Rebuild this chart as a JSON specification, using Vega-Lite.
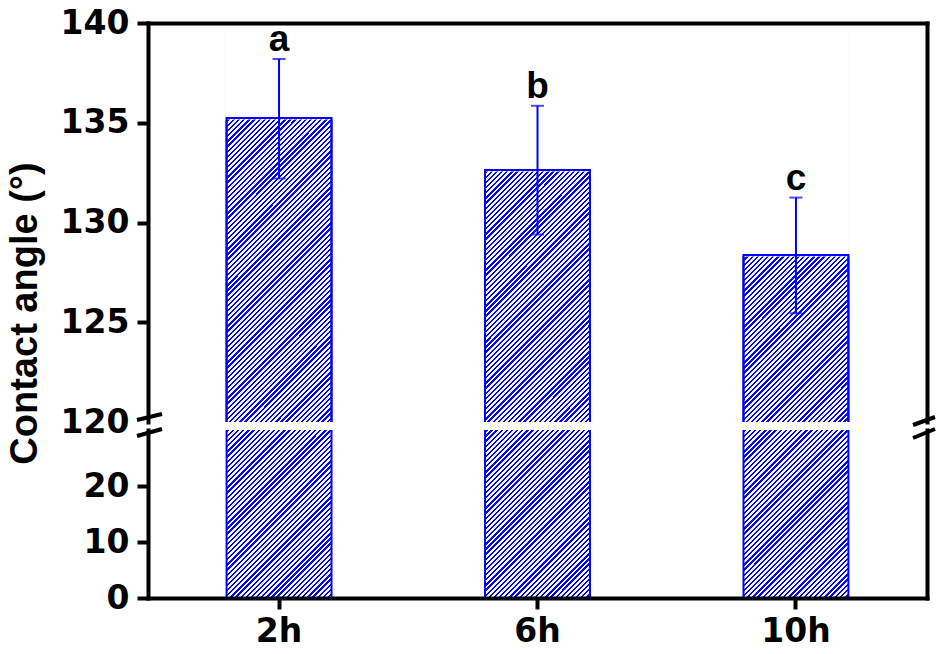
{
 "$schema": "https://vega.github.io/schema/vega-lite/v6.json",
 "padding": {"left": 5, "top": 7, "right": 5, "bottom": 5},
 "data": {"values": [
  {"time": "2h", "mean": 135.24, "lower": 132.2, "upper": 138.2, "letter": "a"},
  {"time": "6h", "mean": 132.63, "lower": 129.4, "upper": 135.85, "letter": "b"},
  {"time": "10h", "mean": 128.37, "lower": 125.45, "upper": 131.25, "letter": "c"}
 ]},
 "spacing": 8,
 "bounds": "flush",
 "vconcat": [
  {
   "width": 779, "height": 399,
   "resolve": {"scale": {"x": "independent", "y": "independent"}},
   "layer": [
    {
     "layer": [
      {"mark": {"type": "bar", "stroke": "#0000ff", "strokeWidth": 2, "clip": true},
       "encoding": {
        "x": {"field": "time", "type": "nominal", "sort": null, "scale": {"paddingInner": 0.594, "paddingOuter": 0.304}, "axis": {"orient": "top", "labels": false, "ticks": false, "title": null, "domainCap": "square", "zindex": 1}},
        "y": {"datum": 140, "type": "quantitative", "title": "Contact angle (°)", "scale": {"domain": [120, 140], "nice": false, "zero": false}, "axis": {"orient": "left", "values": [120, 125, 130, 135, 140], "titleY": 290, "titleX": -104, "titleBaseline": "bottom", "tickOpacity": {"condition": {"test": "datum.value === 120", "value": 0}, "value": 1}, "domainCap": "square", "zindex": 1}},
        "y2": {"datum": 119.5}
       }},
      {"mark": {"type": "bar", "fill": "white", "stroke": "white", "strokeWidth": 3},
       "encoding": {"x": {"field": "time", "type": "nominal", "sort": null}, "y": {"field": "mean", "type": "quantitative", "title": "Contact angle (°)"}, "y2": {"datum": 140}}},
      {"mark": {"type": "bar", "fill": "transparent", "stroke": "#0000ff", "strokeWidth": 2, "clip": true},
       "encoding": {"x": {"field": "time", "type": "nominal", "sort": null}, "y": {"field": "mean", "type": "quantitative", "title": "Contact angle (°)"}, "y2": {"datum": 119.5}}},
      {"mark": {"type": "errorbar", "ticks": true, "size": 13, "thickness": 2, "color": "#0000ff"},
       "encoding": {"x": {"field": "time", "type": "nominal", "sort": null}, "y": {"field": "lower", "type": "quantitative", "title": "Contact angle (°)"}, "y2": {"field": "upper"}}},
      {"mark": {"type": "text", "font": "Liberation Sans", "fontWeight": "bold", "fontSize": 37, "dy": -8, "baseline": "alphabetic", "align": "center", "color": "black"},
       "encoding": {"x": {"field": "time", "type": "nominal", "sort": null}, "y": {"field": "upper", "type": "quantitative", "title": "Contact angle (°)"}, "text": {"field": "letter"}}}
     ]
    },
    {
     "data": {"values": [{}]},
     "layer": [
      {"mark": {"type": "rule", "strokeWidth": 4, "color": "black", "xOffset": -11, "x2Offset": 14, "yOffset": -2, "y2Offset": -8},
       "encoding": {
        "x": {"datum": 0, "type": "quantitative", "scale": {"domain": [0, 1], "nice": false, "zero": false}, "axis": null},
        "x2": {"datum": 0},
        "y": {"datum": 120, "type": "quantitative", "scale": {"domain": [120, 140], "nice": false, "zero": false}, "axis": {"orient": "right", "labels": false, "ticks": false, "title": null, "domainCap": "square", "zindex": 1}},
        "y2": {"datum": 120}
       }},
      {"mark": {"type": "rule", "strokeWidth": 4, "color": "black", "xOffset": -14, "x2Offset": 8, "yOffset": 3, "y2Offset": -5},
       "encoding": {
        "x": {"datum": 1, "type": "quantitative"},
        "x2": {"datum": 1},
        "y": {"datum": 120, "type": "quantitative"},
        "y2": {"datum": 120}
       }}
     ]
    }
   ]
  },
  {
   "width": 779, "height": 168,
   "resolve": {"scale": {"x": "independent", "y": "independent"}},
   "layer": [
    {
     "layer": [
      {"mark": {"type": "bar", "stroke": "#0000ff", "strokeWidth": 2, "clip": true},
       "encoding": {
        "x": {"field": "time", "type": "nominal", "sort": null, "scale": {"paddingInner": 0.594, "paddingOuter": 0.304}, "axis": {"orient": "bottom", "title": null, "labelAngle": 0, "labelPadding": 6, "domainCap": "square", "zindex": 1}},
        "y": {"datum": 73, "type": "quantitative", "scale": {"domain": [0, 30], "nice": false, "zero": false}, "axis": {"orient": "left", "values": [0, 10, 20], "title": null, "domainCap": "square", "zindex": 1}},
        "y2": {"datum": 0}
       }}
     ]
    },
    {
     "data": {"values": [{}]},
     "layer": [
      {"mark": {"type": "rule", "strokeWidth": 4, "color": "black", "xOffset": -11, "x2Offset": 14, "yOffset": 6, "y2Offset": -1},
       "encoding": {
        "x": {"datum": 0, "type": "quantitative", "scale": {"domain": [0, 1], "nice": false, "zero": false}, "axis": null},
        "x2": {"datum": 0},
        "y": {"datum": 30, "type": "quantitative", "scale": {"domain": [0, 30], "nice": false, "zero": false}, "axis": {"orient": "right", "labels": false, "ticks": false, "title": null, "domainCap": "square", "zindex": 1}},
        "y2": {"datum": 30}
       }},
      {"mark": {"type": "rule", "strokeWidth": 4, "color": "black", "xOffset": -14, "x2Offset": 8, "yOffset": 8, "y2Offset": -1},
       "encoding": {
        "x": {"datum": 1, "type": "quantitative"},
        "x2": {"datum": 1},
        "y": {"datum": 30, "type": "quantitative"},
        "y2": {"datum": 30}
       }}
     ]
    }
   ]
  }
 ],
 "config": {
  "view": {"stroke": null},
  "axis": {"grid": false, "domainColor": "black", "domainWidth": 4, "tickColor": "black", "tickWidth": 4, "tickSize": 11, "labelFont": "DejaVu Sans", "labelFontWeight": "bold", "labelFontSize": 33, "labelColor": "black", "labelPadding": 8, "titleFont": "Liberation Sans", "titleFontWeight": "bold", "titleFontSize": 38, "titleColor": "black"},
  "bar": {"fill": {"gradient": "linear", "x1": 0, "y1": 0, "x2": 0.3027, "y2": 1.179, "stops": [
   {"offset":0.18,"color":"blue"},{"offset":0.1845,"color":"blue"},{"offset":0.1845,"color":"white"},{"offset":0.19,"color":"white"},
   {"offset":0.19,"color":"blue"},{"offset":0.1945,"color":"blue"},{"offset":0.1945,"color":"white"},{"offset":0.2,"color":"white"},
   {"offset":0.2,"color":"blue"},{"offset":0.2045,"color":"blue"},{"offset":0.2045,"color":"white"},{"offset":0.21,"color":"white"},
   {"offset":0.21,"color":"blue"},{"offset":0.2145,"color":"blue"},{"offset":0.2145,"color":"white"},{"offset":0.22,"color":"white"},
   {"offset":0.22,"color":"blue"},{"offset":0.2245,"color":"blue"},{"offset":0.2245,"color":"white"},{"offset":0.23,"color":"white"},
   {"offset":0.23,"color":"blue"},{"offset":0.2345,"color":"blue"},{"offset":0.2345,"color":"white"},{"offset":0.24,"color":"white"},
   {"offset":0.24,"color":"blue"},{"offset":0.2445,"color":"blue"},{"offset":0.2445,"color":"white"},{"offset":0.25,"color":"white"},
   {"offset":0.25,"color":"blue"},{"offset":0.2545,"color":"blue"},{"offset":0.2545,"color":"white"},{"offset":0.26,"color":"white"},
   {"offset":0.26,"color":"blue"},{"offset":0.2645,"color":"blue"},{"offset":0.2645,"color":"white"},{"offset":0.27,"color":"white"},
   {"offset":0.27,"color":"blue"},{"offset":0.2745,"color":"blue"},{"offset":0.2745,"color":"white"},{"offset":0.28,"color":"white"},
   {"offset":0.28,"color":"blue"},{"offset":0.2845,"color":"blue"},{"offset":0.2845,"color":"white"},{"offset":0.29,"color":"white"},
   {"offset":0.29,"color":"blue"},{"offset":0.2945,"color":"blue"},{"offset":0.2945,"color":"white"},{"offset":0.3,"color":"white"},
   {"offset":0.3,"color":"blue"},{"offset":0.3045,"color":"blue"},{"offset":0.3045,"color":"white"},{"offset":0.31,"color":"white"},
   {"offset":0.31,"color":"blue"},{"offset":0.3145,"color":"blue"},{"offset":0.3145,"color":"white"},{"offset":0.32,"color":"white"},
   {"offset":0.32,"color":"blue"},{"offset":0.3245,"color":"blue"},{"offset":0.3245,"color":"white"},{"offset":0.33,"color":"white"},
   {"offset":0.33,"color":"blue"},{"offset":0.3345,"color":"blue"},{"offset":0.3345,"color":"white"},{"offset":0.34,"color":"white"},
   {"offset":0.34,"color":"blue"},{"offset":0.3445,"color":"blue"},{"offset":0.3445,"color":"white"},{"offset":0.35,"color":"white"},
   {"offset":0.35,"color":"blue"},{"offset":0.3545,"color":"blue"},{"offset":0.3545,"color":"white"},{"offset":0.36,"color":"white"},
   {"offset":0.36,"color":"blue"},{"offset":0.3645,"color":"blue"},{"offset":0.3645,"color":"white"},{"offset":0.37,"color":"white"},
   {"offset":0.37,"color":"blue"},{"offset":0.3745,"color":"blue"},{"offset":0.3745,"color":"white"},{"offset":0.38,"color":"white"},
   {"offset":0.38,"color":"blue"},{"offset":0.3845,"color":"blue"},{"offset":0.3845,"color":"white"},{"offset":0.39,"color":"white"},
   {"offset":0.39,"color":"blue"},{"offset":0.3945,"color":"blue"},{"offset":0.3945,"color":"white"},{"offset":0.4,"color":"white"},
   {"offset":0.4,"color":"blue"},{"offset":0.4045,"color":"blue"},{"offset":0.4045,"color":"white"},{"offset":0.41,"color":"white"},
   {"offset":0.41,"color":"blue"},{"offset":0.4145,"color":"blue"},{"offset":0.4145,"color":"white"},{"offset":0.42,"color":"white"},
   {"offset":0.42,"color":"blue"},{"offset":0.4245,"color":"blue"},{"offset":0.4245,"color":"white"},{"offset":0.43,"color":"white"},
   {"offset":0.43,"color":"blue"},{"offset":0.4345,"color":"blue"},{"offset":0.4345,"color":"white"},{"offset":0.44,"color":"white"},
   {"offset":0.44,"color":"blue"},{"offset":0.4445,"color":"blue"},{"offset":0.4445,"color":"white"},{"offset":0.45,"color":"white"},
   {"offset":0.45,"color":"blue"},{"offset":0.4545,"color":"blue"},{"offset":0.4545,"color":"white"},{"offset":0.46,"color":"white"},
   {"offset":0.46,"color":"blue"},{"offset":0.4645,"color":"blue"},{"offset":0.4645,"color":"white"},{"offset":0.47,"color":"white"},
   {"offset":0.47,"color":"blue"},{"offset":0.4745,"color":"blue"},{"offset":0.4745,"color":"white"},{"offset":0.48,"color":"white"},
   {"offset":0.48,"color":"blue"},{"offset":0.4845,"color":"blue"},{"offset":0.4845,"color":"white"},{"offset":0.49,"color":"white"},
   {"offset":0.49,"color":"blue"},{"offset":0.4945,"color":"blue"},{"offset":0.4945,"color":"white"},{"offset":0.5,"color":"white"},
   {"offset":0.5,"color":"blue"},{"offset":0.5045,"color":"blue"},{"offset":0.5045,"color":"white"},{"offset":0.51,"color":"white"},
   {"offset":0.51,"color":"blue"},{"offset":0.5145,"color":"blue"},{"offset":0.5145,"color":"white"},{"offset":0.52,"color":"white"},
   {"offset":0.52,"color":"blue"},{"offset":0.5245,"color":"blue"},{"offset":0.5245,"color":"white"},{"offset":0.53,"color":"white"},
   {"offset":0.53,"color":"blue"},{"offset":0.5345,"color":"blue"},{"offset":0.5345,"color":"white"},{"offset":0.54,"color":"white"},
   {"offset":0.54,"color":"blue"},{"offset":0.5445,"color":"blue"},{"offset":0.5445,"color":"white"},{"offset":0.55,"color":"white"},
   {"offset":0.55,"color":"blue"},{"offset":0.5545,"color":"blue"},{"offset":0.5545,"color":"white"},{"offset":0.56,"color":"white"},
   {"offset":0.56,"color":"blue"},{"offset":0.5645,"color":"blue"},{"offset":0.5645,"color":"white"},{"offset":0.57,"color":"white"},
   {"offset":0.57,"color":"blue"},{"offset":0.5745,"color":"blue"},{"offset":0.5745,"color":"white"},{"offset":0.58,"color":"white"},
   {"offset":0.58,"color":"blue"},{"offset":0.5845,"color":"blue"},{"offset":0.5845,"color":"white"},{"offset":0.59,"color":"white"},
   {"offset":0.59,"color":"blue"},{"offset":0.5945,"color":"blue"},{"offset":0.5945,"color":"white"},{"offset":0.6,"color":"white"},
   {"offset":0.6,"color":"blue"},{"offset":0.6045,"color":"blue"},{"offset":0.6045,"color":"white"},{"offset":0.61,"color":"white"},
   {"offset":0.61,"color":"blue"},{"offset":0.6145,"color":"blue"},{"offset":0.6145,"color":"white"},{"offset":0.62,"color":"white"},
   {"offset":0.62,"color":"blue"},{"offset":0.6245,"color":"blue"},{"offset":0.6245,"color":"white"},{"offset":0.63,"color":"white"},
   {"offset":0.63,"color":"blue"},{"offset":0.6345,"color":"blue"},{"offset":0.6345,"color":"white"},{"offset":0.64,"color":"white"},
   {"offset":0.64,"color":"blue"},{"offset":0.6445,"color":"blue"},{"offset":0.6445,"color":"white"},{"offset":0.65,"color":"white"},
   {"offset":0.65,"color":"blue"},{"offset":0.6545,"color":"blue"},{"offset":0.6545,"color":"white"},{"offset":0.66,"color":"white"},
   {"offset":0.66,"color":"blue"},{"offset":0.6645,"color":"blue"},{"offset":0.6645,"color":"white"},{"offset":0.67,"color":"white"},
   {"offset":0.67,"color":"blue"},{"offset":0.6745,"color":"blue"},{"offset":0.6745,"color":"white"},{"offset":0.68,"color":"white"},
   {"offset":0.68,"color":"blue"},{"offset":0.6845,"color":"blue"},{"offset":0.6845,"color":"white"},{"offset":0.69,"color":"white"},
   {"offset":0.69,"color":"blue"},{"offset":0.6945,"color":"blue"},{"offset":0.6945,"color":"white"},{"offset":0.7,"color":"white"},
   {"offset":0.7,"color":"blue"},{"offset":0.7045,"color":"blue"},{"offset":0.7045,"color":"white"},{"offset":0.71,"color":"white"},
   {"offset":0.71,"color":"blue"},{"offset":0.7145,"color":"blue"},{"offset":0.7145,"color":"white"},{"offset":0.72,"color":"white"},
   {"offset":0.72,"color":"blue"},{"offset":0.7245,"color":"blue"},{"offset":0.7245,"color":"white"},{"offset":0.73,"color":"white"},
   {"offset":0.73,"color":"blue"},{"offset":0.7345,"color":"blue"},{"offset":0.7345,"color":"white"},{"offset":0.74,"color":"white"},
   {"offset":0.74,"color":"blue"},{"offset":0.7445,"color":"blue"},{"offset":0.7445,"color":"white"},{"offset":0.75,"color":"white"},
   {"offset":0.75,"color":"blue"},{"offset":0.7545,"color":"blue"},{"offset":0.7545,"color":"white"},{"offset":0.76,"color":"white"},
   {"offset":0.76,"color":"blue"},{"offset":0.7645,"color":"blue"},{"offset":0.7645,"color":"white"},{"offset":0.77,"color":"white"},
   {"offset":0.77,"color":"blue"},{"offset":0.7745,"color":"blue"},{"offset":0.7745,"color":"white"},{"offset":0.78,"color":"white"},
   {"offset":0.78,"color":"blue"},{"offset":0.7845,"color":"blue"},{"offset":0.7845,"color":"white"},{"offset":0.79,"color":"white"},
   {"offset":0.79,"color":"blue"},{"offset":0.7945,"color":"blue"},{"offset":0.7945,"color":"white"},{"offset":0.8,"color":"white"},
   {"offset":0.8,"color":"blue"},{"offset":0.8045,"color":"blue"},{"offset":0.8045,"color":"white"},{"offset":0.81,"color":"white"},
   {"offset":0.81,"color":"blue"},{"offset":0.8145,"color":"blue"},{"offset":0.8145,"color":"white"},{"offset":0.82,"color":"white"},
   {"offset":0.82,"color":"blue"},{"offset":0.8245,"color":"blue"},{"offset":0.8245,"color":"white"},{"offset":0.83,"color":"white"},
   {"offset":0.83,"color":"blue"},{"offset":0.8345,"color":"blue"},{"offset":0.8345,"color":"white"},{"offset":0.84,"color":"white"},
   {"offset":0.84,"color":"blue"},{"offset":0.8445,"color":"blue"},{"offset":0.8445,"color":"white"},{"offset":0.85,"color":"white"},
   {"offset":0.85,"color":"blue"},{"offset":0.8545,"color":"blue"},{"offset":0.8545,"color":"white"},{"offset":0.86,"color":"white"},
   {"offset":0.86,"color":"blue"},{"offset":0.8645,"color":"blue"},{"offset":0.8645,"color":"white"},{"offset":0.87,"color":"white"},
   {"offset":0.87,"color":"blue"},{"offset":0.8745,"color":"blue"},{"offset":0.8745,"color":"white"},{"offset":0.88,"color":"white"},
   {"offset":0.88,"color":"blue"},{"offset":0.8845,"color":"blue"},{"offset":0.8845,"color":"white"},{"offset":0.89,"color":"white"},
   {"offset":0.89,"color":"blue"},{"offset":0.8945,"color":"blue"},{"offset":0.8945,"color":"white"},{"offset":0.9,"color":"white"},
   {"offset":0.9,"color":"blue"},{"offset":0.9045,"color":"blue"},{"offset":0.9045,"color":"white"},{"offset":0.91,"color":"white"},
   {"offset":0.91,"color":"blue"},{"offset":0.9145,"color":"blue"},{"offset":0.9145,"color":"white"},{"offset":0.92,"color":"white"},
   {"offset":0.92,"color":"blue"},{"offset":0.9245,"color":"blue"},{"offset":0.9245,"color":"white"},{"offset":0.93,"color":"white"},
   {"offset":0.93,"color":"blue"},{"offset":0.9345,"color":"blue"},{"offset":0.9345,"color":"white"},{"offset":0.94,"color":"white"},
   {"offset":0.94,"color":"blue"},{"offset":0.9445,"color":"blue"},{"offset":0.9445,"color":"white"},{"offset":0.95,"color":"white"},
   {"offset":0.95,"color":"blue"},{"offset":0.9545,"color":"blue"},{"offset":0.9545,"color":"white"},{"offset":0.96,"color":"white"},
   {"offset":0.96,"color":"blue"},{"offset":0.9645,"color":"blue"},{"offset":0.9645,"color":"white"},{"offset":0.97,"color":"white"},
   {"offset":0.97,"color":"blue"},{"offset":0.9745,"color":"blue"},{"offset":0.9745,"color":"white"},{"offset":0.98,"color":"white"},
   {"offset":0.98,"color":"blue"},{"offset":0.9845,"color":"blue"},{"offset":0.9845,"color":"white"},{"offset":0.99,"color":"white"},
   {"offset":0.99,"color":"blue"},{"offset":0.9945,"color":"blue"},{"offset":0.9945,"color":"white"},{"offset":1,"color":"white"}
  ]}}
 }
}
